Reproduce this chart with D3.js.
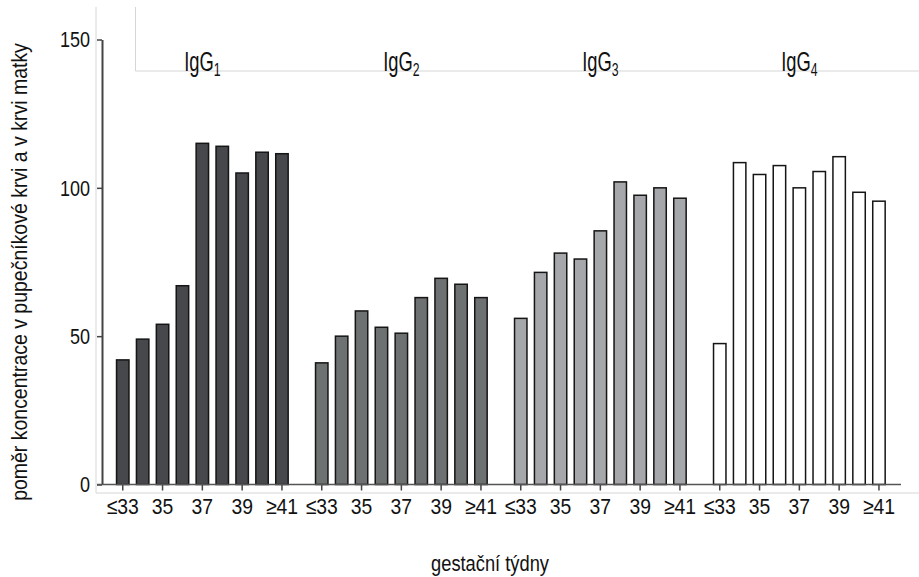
<!DOCTYPE html>
<html>
<head>
<meta charset="utf-8">
<script src="https://cdn.jsdelivr.net/npm/d3@7"></script>
<style>
  html, body { margin: 0; padding: 0; background: #fff; }
  svg { display: block; }
  text { font-family: "Liberation Sans", Arial, sans-serif; fill: #111; }
</style>
</head>
<body>
<svg id="chart" width="919" height="577"></svg>
<script>
// ---- data ----
const groups = ["IgG1", "IgG2", "IgG3", "IgG4"];
const groupSubs = ["1", "2", "3", "4"];
const weeks = ["≤33", "34", "35", "36", "37", "38", "39", "40", "≥41"];
const tickWeeks = ["≤33", "35", "37", "39", "≥41"];
const igg1 = [42, 49, 54, 67, 115, 114, 105, 112, 111.5];
const igg2 = [41, 50, 58.5, 53, 51, 63, 69.5, 67.5, 63];
const igg3 = [56, 71.5, 78, 76, 85.5, 102, 97.5, 100, 96.5];
const igg4 = [47.5, 108.5, 104.5, 107.5, 100, 105.5, 110.5, 98.5, 95.5];
const seriesValues = [igg1, igg2, igg3, igg4];
const yTicks = [0, 50, 100, 150];
const groupColors = ["#46484c", "#6e7171", "#a6a7aa", "#ffffff"];
const yTitle = "poměr koncentrace v pupečníkové krvi a v krvi matky";
const xTitle = "gestační týdny";

// ---- helpers ----
function condense(sel, factor) {
  sel.each(function () {
    const L = this.getComputedTextLength();
    d3.select(this).attr("textLength", L * factor).attr("lengthAdjust", "spacingAndGlyphs");
  });
}

// ---- build ----
const svg = d3.select("#chart");

const slots = [];
groups.forEach((g, gi) => {
  weeks.forEach(w => slots.push(g + "|" + w));
  if (gi < groups.length - 1) slots.push(g + "|gap");
});

const x = d3.scaleBand().domain(slots).range([112.8, 888.9]).paddingInner(0.3).paddingOuter(0.15);
const y = d3.scaleLinear().domain([0, 150]).range([484.5, 39.5]);

// faint frame lines
const frame = svg.append("g").attr("stroke", "#d6d6d6").attr("stroke-width", 1).attr("fill", "none");
frame.append("line").attr("x1", 96).attr("x2", 96).attr("y1", 7).attr("y2", 493);
frame.append("line").attr("x1", 96).attr("x2", 919).attr("y1", 493).attr("y2", 493);
frame.append("line").attr("x1", 135.5).attr("x2", 135.5).attr("y1", 7).attr("y2", 71);
frame.append("line").attr("x1", 135.5).attr("x2", 919).attr("y1", 71).attr("y2", 71);

// bars
const data = [];
groups.forEach((g, gi) => {
  weeks.forEach((w, wi) => data.push({ g, gi, w, v: seriesValues[gi][wi] }));
});

svg.append("g").selectAll("rect").data(data).join("rect")
  .attr("x", d => x(d.g + "|" + d.w) + 0.75)
  .attr("width", x.bandwidth() - 1.5)
  .attr("y", d => y(d.v))
  .attr("height", d => y(0) - y(d.v))
  .attr("fill", d => groupColors[d.gi])
  .attr("stroke", "#151515")
  .attr("stroke-width", 1.5);

// y axis
const yAxis = d3.axisLeft(y).tickValues(yTicks).tickSize(5).tickSizeOuter(0).tickPadding(7);
const gy = svg.append("g").attr("transform", "translate(102,0)").call(yAxis);
gy.select(".domain").attr("stroke", "#444").attr("stroke-width", 2);
gy.selectAll(".tick line").attr("stroke", "#444").attr("stroke-width", 1.5);
gy.selectAll(".tick text").attr("font-size", 22.5).attr("font-family", null).attr("fill", "#111");
condense(gy.selectAll(".tick text"), 0.8);

// x axis
const tickKeys = [];
groups.forEach(g => tickWeeks.forEach(w => tickKeys.push(g + "|" + w)));
const xAxis = d3.axisBottom(x).tickValues(tickKeys).tickFormat(k => k.split("|")[1]).tickSize(6).tickPadding(8);
const gx = svg.append("g").attr("transform", "translate(0," + y(0) + ")").call(xAxis);
gx.select(".domain").remove();
gx.append("line").attr("x1", 97).attr("x2", 901).attr("y1", 0).attr("y2", 0)
  .attr("stroke", "#555").attr("stroke-width", 1.5);
gx.selectAll(".tick line").attr("stroke", "#444").attr("stroke-width", 1.5);
gx.selectAll(".tick text").attr("font-size", 22.5).attr("font-family", null).attr("fill", "#111");
condense(gx.selectAll(".tick text"), 0.86);

// group labels
groups.forEach((g, gi) => {
  const cx = x(g + "|" + weeks[4]) + x.bandwidth() / 2;
  const t = svg.append("text")
    .attr("transform", "translate(" + cx + ",71) scale(0.68,1)")
    .attr("text-anchor", "middle").attr("font-size", 27);
  t.append("tspan").text(g.slice(0, 3));
  t.append("tspan").attr("font-size", 18).attr("dy", 5).text(groupSubs[gi]);
});

// axis titles (horizontally condensed through a scale transform)
const yT = svg.append("text").attr("text-anchor", "middle").attr("font-size", 22).text(yTitle);
const yLen = yT.node().getComputedTextLength();
yT.attr("transform", "translate(27," + ((y(0) + y(150)) / 2 + 10) + ") rotate(-90) scale(" + (458 / yLen) + ",1)");

const xT = svg.append("text").attr("text-anchor", "middle").attr("font-size", 22).text(xTitle);
const xLen = xT.node().getComputedTextLength();
xT.attr("transform", "translate(490,571) scale(" + (118 / xLen) + ",1)");
</script>
</body>
</html>
